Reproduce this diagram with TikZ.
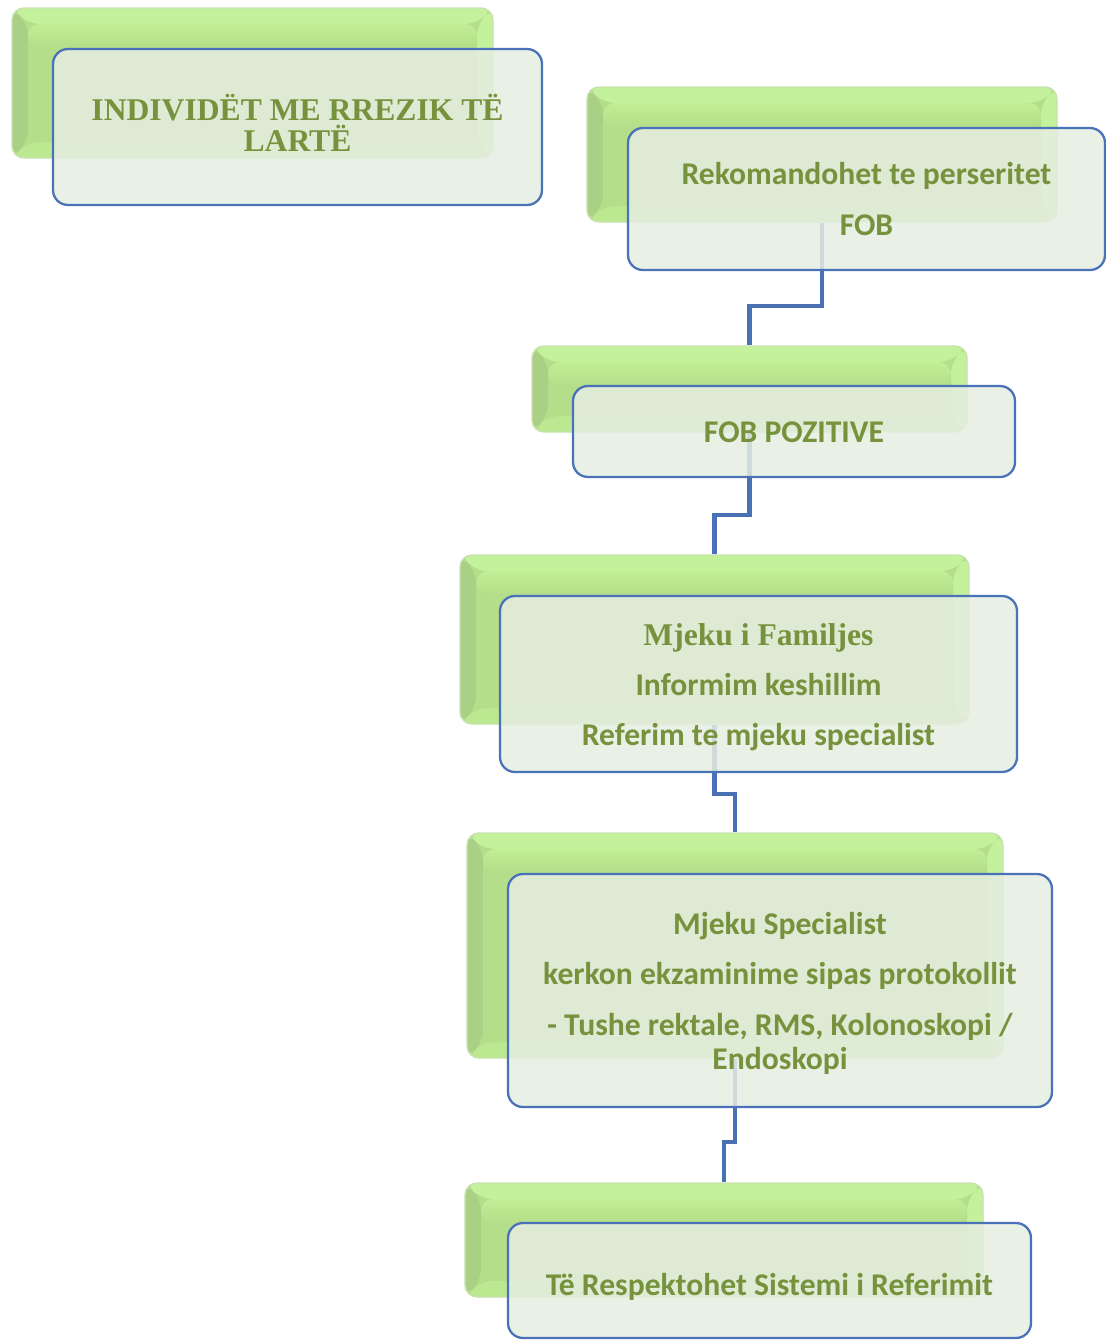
\documentclass[tikz,border=0pt]{standalone}
\usepackage{fontspec}
\setmainfont{Liberation Serif}
\newfontfamily\calfont{Carlito}
\usetikzlibrary{fit,calc}

\definecolor{txtgreen}{HTML}{76923C}
\definecolor{bodygreen}{HTML}{B4DE89}
\definecolor{bodytop}{HTML}{C8F59C}
\definecolor{bevlight}{HTML}{C4F19B}
\definecolor{bevdark}{HTML}{AAD086}
\definecolor{bevbottom}{HTML}{BDE892}
\definecolor{glow}{HTML}{C8E2AE}
\definecolor{panel}{HTML}{E5EDE1}
\definecolor{edgeblue}{HTML}{4A72B8}
\definecolor{linkblue}{HTML}{4A71B3}

% bevelled plate drawn inside the node outline
\newcommand\plateart{%
  \path (path picture bounding box.north west) coordinate (q1)
        (path picture bounding box.south east) coordinate (q2);
  \fill[bevlight] (q1) -- (q1 -| q2) -- ($(q1 -| q2)+(-16,16)$) -- ($(q1)+(16,16)$) -- cycle;
  \fill[bevlight] (q1 -| q2) -- (q2) -- ($(q2)+(-16,-16)$) -- ($(q1 -| q2)+(-16,16)$) -- cycle;
  \fill[bevbottom] (q2 -| q1) -- (q2) -- ($(q2)+(-16,-16)$) -- ($(q2 -| q1)+(16,-16)$) -- cycle;
  \fill[bevdark] (q1) -- ($(q1)+(16,16)$) -- ($(q2 -| q1)+(16,-16)$) -- (q2 -| q1) -- cycle;
  \fill[bodygreen] ($(q1)+(16,16)$) rectangle ($(q2)+(-16,-16)$);
  \shade[top color=bodytop!70!bodygreen, bottom color=bodygreen]
    ($(q1)+(16,16)$) rectangle ($(q1 -| q2)+(-16,40)$);
}

\tikzset{
  backbox/.style={inner sep=0pt, rounded corners=0.24cm,
    draw=glow, line width=0.8pt, fill=bodygreen,
    path picture={\plateart}},
  frontbox/.style={inner sep=0pt, rounded corners=0.3cm,
    fill=panel, fill opacity=0.86,
    draw=edgeblue, draw opacity=1, line width=1.3pt},
  caption/.style={inner sep=0pt, text=txtgreen, align=center},
  sans/.style={caption, font=\calfont\bfseries\fontsize{18}{19.5}\selectfont},
  serif/.style={caption, font=\bfseries\fontsize{18}{18}\selectfont},
  link/.style={draw=linkblue, line width=2.3pt}
}

\begin{document}
\begin{tikzpicture}[x=0.02cm, y=-0.02cm]
  \useasboundingbox (0,0) rectangle (1106,1340);

  % raised green plates behind each step
  \node[backbox, fit={(12,8) (493,158)}]      (b1) {};
  \node[backbox, fit={(587,87) (1057,222)}]   (b2) {};
  \node[backbox, fit={(532,346) (967,432)}]   (b3) {};
  \node[backbox, fit={(460,555) (969,724)}]   (b4) {};
  \node[backbox, fit={(467,833) (1003,1058)}] (b5) {};
  \node[backbox, fit={(465,1183) (983,1297)}] (b6) {};

  % elbow links between consecutive plates
  \draw[link] (b2.south) |- ($(b3.north)+(0,-39)$) -- (b3.north);
  \draw[link] (b3.south) |- ($(b4.north)+(0,-39)$) -- (b4.north);
  \draw[link] (b4.south) |- ($(b5.north)+(0,-38)$) -- (b5.north);
  \draw[link] (b5.south) |- ($(b6.north)+(0,-40)$) -- (b6.north);

  % translucent panels
  \node[frontbox, fit={(53,49) (542,205)}]     (f1) {};
  \node[frontbox, fit={(628,128) (1105,270)}]  (f2) {};
  \node[frontbox, fit={(573,386) (1015,477)}]  (f3) {};
  \node[frontbox, fit={(500,596) (1017,772)}]  (f4) {};
  \node[frontbox, fit={(508,874) (1052,1107)}] (f5) {};
  \node[frontbox, fit={(508,1223) (1031,1338)}] (f6) {};

  % panel captions
  \node[serif] (t1) at ($(f1.center)+(0,-4)$) {INDIVIDËT ME RREZIK TË\\LARTË};
  \node[sans]  (t2) at ($(f2.center)+(0,0)$) {Rekomandohet te perseritet\\[9pt]FOB};
  \node[sans]  (t3) at ($(f3.center)+(0,1)$) {FOB POZITIVE};
  \node[sans]  (t4) at ($(f4.center)+(0,3)$)
    {{\rmfamily\bfseries\fontsize{18}{19.5}\selectfont Mjeku i Familjes}\\[9pt]
     Informim keshillim\\[9pt]Referim te mjeku specialist};
  \node[sans]  (t5) at ($(f5.center)+(0,3)$)
    {Mjeku Specialist\\[9pt]kerkon ekzaminime sipas protokollit\\[9pt]
     - Tushe rektale, RMS, Kolonoskopi /\\Endoskopi};
  \node[sans]  (t6) at ($(f6.center)+(0,6)$) {Të Respektohet Sistemi i Referimit};
\end{tikzpicture}
\end{document}
